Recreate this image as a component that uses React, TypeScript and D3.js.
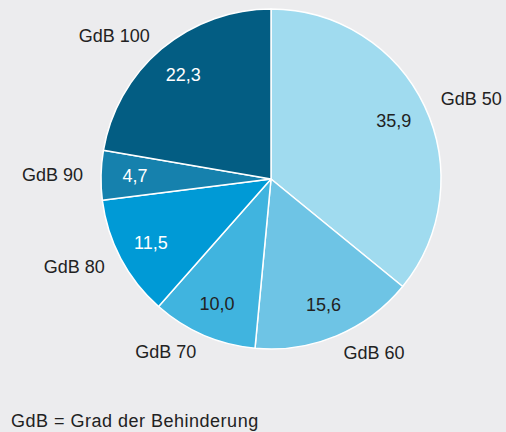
import React from "react";
import * as d3 from "d3";

const categories = ["GdB 50", "GdB 60", "GdB 70", "GdB 80", "GdB 90", "GdB 100"];
const values = [35.9, 15.6, 10.0, 11.5, 4.7, 22.3];
const valueLabels = ["35,9", "15,6", "10,0", "11,5", "4,7", "22,3"];
const colors = ["#a0dbef", "#6ec4e5", "#40b4df", "#009ad6", "#1681ad", "#035d83"];
const valueTextColors = ["#222", "#222", "#222", "#fff", "#fff", "#fff"];
const footnote = "GdB = Grad der Behinderung";

const W = 506;
const H = 432;
const CX = 271;
const CY = 179;
const R = 170;
const FONT = "'Liberation Sans', Arial, Helvetica, sans-serif";

export default function App() {
  const pie = d3.pie<number>().sort(null).value((d) => d);
  const arcs = pie(values);
  const arc = d3.arc<d3.PieArcDatum<number>>().innerRadius(0).outerRadius(R);
  const inner = d3.arc<d3.PieArcDatum<number>>().innerRadius(R * 0.8).outerRadius(R * 0.8);
  const outer = d3.arc<d3.PieArcDatum<number>>().innerRadius(188).outerRadius(188);

  return (
    <svg
      width={W}
      height={H}
      style={{ position: "absolute", left: 0, top: 0, background: "#ececee" }}
      fontFamily={FONT}
    >
      <rect width={W} height={H} fill="#ececee" />
      <g transform={`translate(${CX},${CY})`}>
        {arcs.map((a, i) => (
          <path key={"s" + i} d={arc(a) || ""} fill={colors[i]} stroke="#fff" strokeWidth={1.5} strokeLinejoin="round" />
        ))}
        {arcs.map((a, i) => {
          const [x, y] = inner.centroid(a);
          return (
            <text key={"v" + i} x={x} y={y} dy="0.35em" textAnchor="middle" fontSize={18} fill={valueTextColors[i]}>
              {valueLabels[i]}
            </text>
          );
        })}
        {arcs.map((a, i) => {
          const [x, y] = outer.centroid(a);
          const mid = (a.startAngle + a.endAngle) / 2;
          const anchor = mid < Math.PI ? "start" : "end";
          return (
            <text key={"c" + i} x={x} y={y} dy="0.35em" textAnchor={anchor} fontSize={18} fill="#222">
              {categories[i]}
            </text>
          );
        })}
      </g>
      <text x={11} y={427} fontSize={18} fill="#222" letterSpacing={0.5}>
        {footnote}
      </text>
    </svg>
  );
}
